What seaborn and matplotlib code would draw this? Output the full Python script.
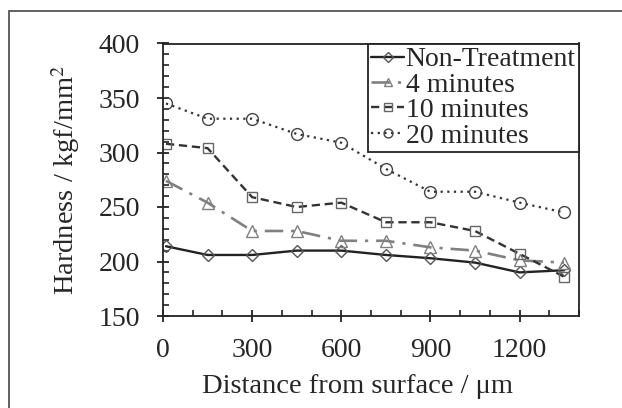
import matplotlib
matplotlib.use("Agg")
import matplotlib.pyplot as plt
import seaborn as sns
import pandas as pd
from matplotlib.patches import Rectangle
from matplotlib.ticker import MultipleLocator

distance = [10, 150, 300, 450, 600, 750, 900, 1050, 1200, 1350]
non_treatment = [214, 206, 206, 210, 210, 206, 203, 199, 190, 192]
min4 = [274, 254, 228, 228, 219, 219, 213, 210, 201, 199]
min10 = [308, 304, 259, 250, 254, 236, 236, 228, 207, 186]
min20 = [345, 331, 331, 317, 309, 285, 264, 264, 254, 245]
labels = ["Non-Treatment", "4 minutes", "10 minutes", "20 minutes"]
x_ticks = [0, 300, 600, 900, 1200]
y_ticks = [150, 200, 250, 300, 350, 400]

sns.set_theme(style="ticks")
plt.rcParams['font.family'] = ['Liberation Serif', 'DejaVu Serif']
plt.rcParams['mathtext.fontset'] = 'stix'

FS = 20.5

fig = plt.figure(figsize=(6.22, 4.08), dpi=100)
ax = fig.add_axes([163/622, 1-316/408, (579-163)/622, (316-43.5)/408])

# outer frame
fig.patches.append(Rectangle((9/622, -0.2), 1.2, 1-11/408+0.2, transform=fig.transFigure,
                             fill=False, edgecolor='#555555', linewidth=1.3, zorder=0))

series = [non_treatment, min4, min10, min20]
styles = [
    dict(color='#222222', linestyle='-', marker='D', markersize=6.3, mec='#555555', lw=1.7),
    dict(color='#808080', linestyle=(0, (7, 3, 1.2, 3)), marker='^', markersize=8.5, mec='#808080', lw=1.9),
    dict(color='#333333', linestyle=(0, (3.5, 2)), marker='s', markersize=7.5, mec='#666666', lw=1.7),
    dict(color='#333333', linestyle=(0, (1, 2)), marker='o', markersize=8.5, mec='#444444', lw=1.6),
]
for vals, lab, st in zip(series, labels, styles):
    df = pd.DataFrame({"Distance": distance, "Hardness": vals})
    sns.lineplot(data=df, x="Distance", y="Hardness", ax=ax, label=lab,
                 color=st['color'], linestyle=st['linestyle'], linewidth=st['lw'],
                 marker=st['marker'], markersize=st['markersize'],
                 markerfacecolor='none', markeredgecolor=st['mec'], markeredgewidth=1.0)

ax.set_xlim(0, 1400)
ax.set_ylim(150, 400)
ax.set_xticks(x_ticks)
ax.set_yticks(y_ticks)
ax.xaxis.set_minor_locator(MultipleLocator(100))
ax.yaxis.set_minor_locator(MultipleLocator(10))
ax.tick_params(which='major', direction='inout', length=9, width=1.3, color='#222222',
               labelsize=20, pad=11)
ax.tick_params(axis='y', which='major', pad=12)
ax.tick_params(which='minor', direction='in', length=4.5, width=1.2, color='#222222')
for s in ax.spines.values():
    s.set_linewidth(1.3)
    s.set_color('#222222')

ax.set_xlabel("Distance from surface / μm", fontsize=FS)
ax.xaxis.set_label_coords((357 - 163) / 416, -(388 - 316 + 5) / 272.5)
ax.xaxis.label.set_va('baseline')
ax.set_ylabel("Hardness / kgf/mm$^2$", fontsize=FS, labelpad=12)

leg = ax.legend(loc='upper right', borderaxespad=0, fontsize=20, frameon=True,
                fancybox=False, edgecolor='#222222', framealpha=1,
                handlelength=1.2, handletextpad=0.05, labelspacing=0.0,
                borderpad=0.12, markerscale=0.75)
leg.get_frame().set_linewidth(1.3)

fig.savefig("out.png", dpi=100)
